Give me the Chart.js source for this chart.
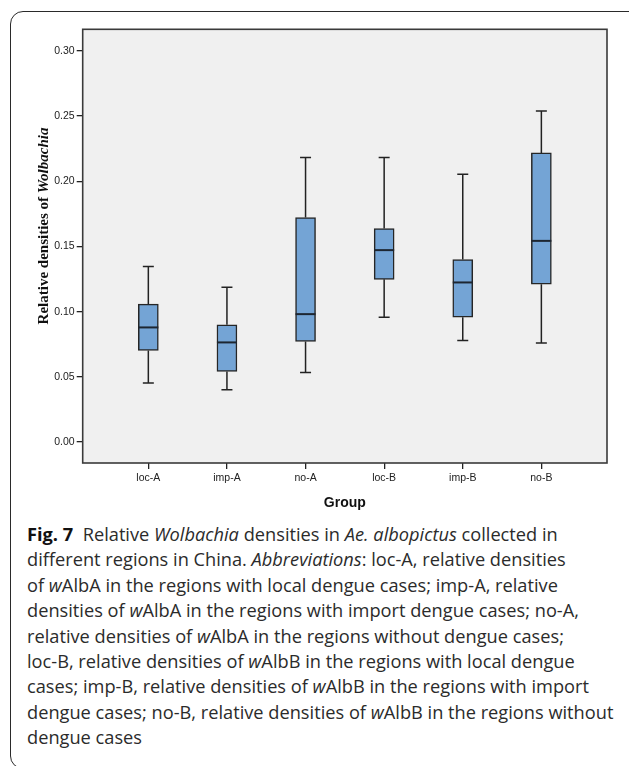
<!DOCTYPE html>
<html>
<head>
<meta charset="utf-8">
<script src="https://cdn.jsdelivr.net/npm/chart.js@4.4.1/dist/chart.umd.min.js"></script>
<style>
html,body{margin:0;padding:0;background:#fff;width:629px;height:766px;overflow:hidden;}
#card{position:absolute;left:10px;top:11px;width:700px;height:758px;border:1.4px solid #2a2a2a;border-radius:13px;box-sizing:border-box;}
#wrap{position:absolute;left:0;top:0;width:629px;height:520px;}
#caption{position:absolute;left:27px;top:522px;font-family:"Open Sans",sans-serif;font-size:18px;line-height:25.4px;color:#2b2b2b;white-space:nowrap;transform-origin:0 0;}
#caption .ln{display:block;}
#caption .ln span{display:inline-block;}
#caption b{color:#111;}
</style>
</head>
<body>
<div id="card"></div>
<div id="wrap"><canvas id="c" width="629" height="520"></canvas></div>
<div id="caption">
<div class="ln"><span><b>Fig. 7</b>&nbsp; Relative <i>Wolbachia</i> densities in <i>Ae. albopictus</i> collected in</span></div>
<div class="ln"><span>different regions in China. <i>Abbreviations</i>: loc-A, relative densities</span></div>
<div class="ln"><span>of <i>w</i>AlbA in the regions with local dengue cases; imp-A, relative</span></div>
<div class="ln"><span>densities of <i>w</i>AlbA in the regions with import dengue cases; no-A,</span></div>
<div class="ln"><span>relative densities of <i>w</i>AlbA in the regions without dengue cases;</span></div>
<div class="ln"><span>loc-B, relative densities of <i>w</i>AlbB in the regions with local dengue</span></div>
<div class="ln"><span>cases; imp-B, relative densities of <i>w</i>AlbB in the regions with import</span></div>
<div class="ln" id="longest"><span>dengue cases; no-B, relative densities of <i>w</i>AlbB in the regions without</span></div>
<div class="ln"><span>dengue cases</span></div>
</div>
<script>
// ---- data ----
const categories = ['loc-A','imp-A','no-A','loc-B','imp-B','no-B'];
const whiskerMin = [0.0452,0.0401,0.0534,0.0958,0.0779,0.0759];
const q1         = [0.0702,0.0541,0.0771,0.1248,0.0958,0.1211];
const median     = [0.0879,0.0764,0.0981,0.1472,0.1224,0.1543];
const q3         = [0.1058,0.0899,0.1722,0.1638,0.1400,0.2218];
const whiskerMax = [0.1346,0.1188,0.2182,0.2182,0.2055,0.2540];
const yTicks     = [0.00,0.05,0.10,0.15,0.20,0.25,0.30];
const yTitleMain = 'Relative densities of ';
const yTitleItal = 'Wolbachia';
const xTitle     = 'Group';

const boxPlugin = {
  id: 'boxExtras',
  beforeDatasetsDraw(chart){
    const {ctx, chartArea:a} = chart;
    const xs = chart.scales.x, ys = chart.scales.y;
    ctx.save();
    ctx.fillStyle = '#f0f0f0';
    ctx.fillRect(a.left, a.top, a.width, a.height);
    ctx.strokeStyle = '#222';
    ctx.lineWidth = 1.5;
    categories.forEach((c,i)=>{
      const px = xs.getPixelForValue(i);
      const yMin = ys.getPixelForValue(whiskerMin[i]);
      const yMax = ys.getPixelForValue(whiskerMax[i]);
      const yQ1 = ys.getPixelForValue(q1[i]);
      const yQ3 = ys.getPixelForValue(q3[i]);
      ctx.beginPath();
      ctx.moveTo(px, yQ3); ctx.lineTo(px, yMax);
      ctx.moveTo(px, yQ1); ctx.lineTo(px, yMin);
      ctx.moveTo(px-5.5, yMax); ctx.lineTo(px+5.5, yMax);
      ctx.moveTo(px-5.5, yMin); ctx.lineTo(px+5.5, yMin);
      ctx.stroke();
    });
    ctx.restore();
  },
  afterDatasetsDraw(chart){
    const {ctx, chartArea:a} = chart;
    const xs = chart.scales.x, ys = chart.scales.y;
    ctx.save();
    ctx.strokeStyle = '#1d2631';
    ctx.lineWidth = 2;
    categories.forEach((c,i)=>{
      const px = xs.getPixelForValue(i);
      const yM = ys.getPixelForValue(median[i]);
      ctx.beginPath();
      ctx.moveTo(px-10, yM); ctx.lineTo(px+10, yM);
      ctx.stroke();
    });
    ctx.strokeStyle = '#3a3a3a';
    ctx.lineWidth = 1.6;
    ctx.strokeRect(a.left, a.top, a.width, a.height);
    ctx.restore();
  },
  afterDraw(chart){
    const ctx = chart.ctx;
    ctx.save();
    ctx.fillStyle = '#111';
    const f1 = 'bold 15px "Liberation Serif", "Times New Roman", serif';
    const f2 = 'italic bold 15px "Liberation Serif", "Times New Roman", serif';
    ctx.font = f1; const w1 = ctx.measureText(yTitleMain).width;
    ctx.font = f2; const w2 = ctx.measureText(yTitleItal).width;
    ctx.translate(44, 226);
    ctx.rotate(-Math.PI/2);
    ctx.textBaseline = 'middle';
    ctx.textAlign = 'left';
    const start = -(w1+w2)/2;
    ctx.font = f1; ctx.fillText(yTitleMain, start, 0);
    ctx.font = f2; ctx.fillText(yTitleItal, start + w1, 0);
    ctx.restore();
  }
};

const tickFont = {family:'"Liberation Sans", Arial, sans-serif', size:10.5};

new Chart(document.getElementById('c'), {
  type: 'bar',
  data: {
    datasets: [{
      label: 'IQR',
      data: categories.map((c,i)=>({x:i, y:[q1[i], q3[i]]})),
      backgroundColor: 'rgb(116,164,213)',
      borderColor: '#262626',
      borderWidth: 1.5,
      borderSkipped: false,
      barThickness: 20
    }]
  },
  options: {
    responsive: false,
    animation: false,
    devicePixelRatio: 1,
    layout: {padding: {left:0, top:29.3, right:22, bottom:0}},
    plugins: {legend:{display:false}, tooltip:{enabled:false}},
    scales: {
      x: {
        type: 'linear',
        min: -0.835, max: 5.835,
        offset: false,
        afterBuildTicks: s => { s.ticks = categories.map((c,i)=>({value:i})); },
        afterFit: s => { s.height = 57; },
        grid: {display:true, offset:false, drawOnChartArea:false, drawTicks:true, tickLength:6, color:'#222', lineWidth:1.3},
        border: {display:false},
        ticks: {autoSkip:false, maxRotation:0, padding:3, color:'#222', font:tickFont,
                callback: (v) => categories[v]},
        title: {display:true, text:xTitle, color:'#111',
                font:{family:'"Liberation Sans", Arial, sans-serif', size:14, weight:'bold'},
                padding:{top:0, bottom:8.6}}
      },
      y: {
        type: 'linear',
        min: -0.0161, max: 0.3166,
        afterBuildTicks: s => { s.ticks = yTicks.map(v=>({value:v})); },
        afterFit: s => { s.width = 82.7; },
        grid: {display:true, drawOnChartArea:false, drawTicks:true, tickLength:6, color:'#222', lineWidth:1.3},
        border: {display:false},
        ticks: {padding:2, color:'#222', font:tickFont, callback: v => Number(v).toFixed(2)}
      }
    }
  },
  plugins: [boxPlugin]
});

(function(){
  const span = document.querySelector('#longest span');
  const w = span.getBoundingClientRect().width;
  const s = 586.4 / w;
  document.getElementById('caption').style.transform = 'scaleX(' + s + ')';
})();
</script>
</body>
</html>
